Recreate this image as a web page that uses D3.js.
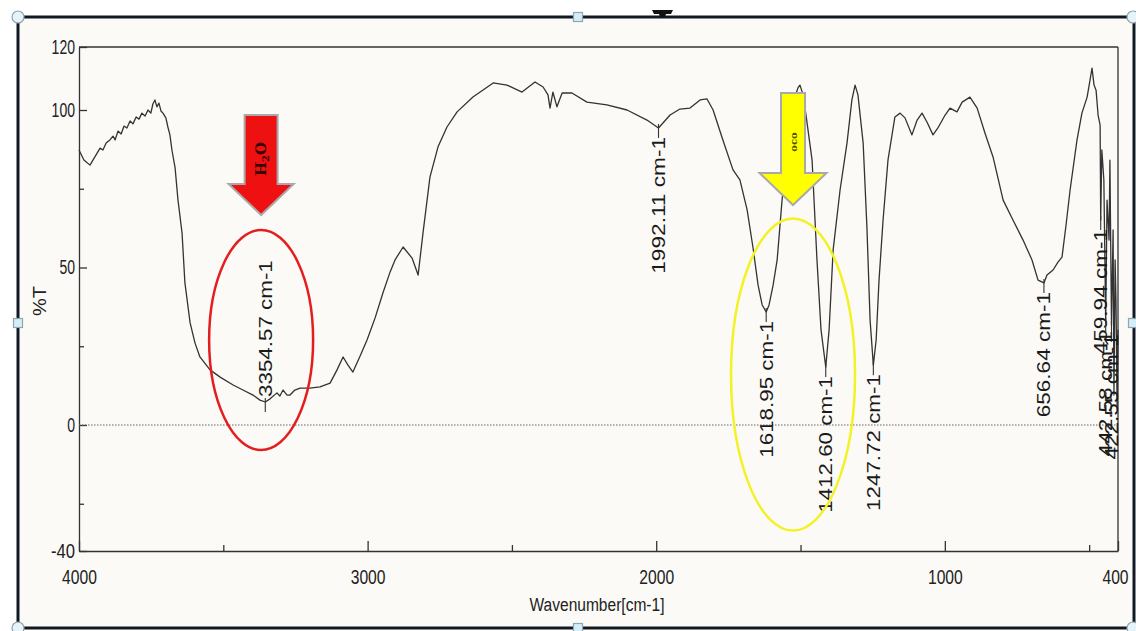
<!DOCTYPE html>
<html>
<head>
<meta charset="utf-8">
<script src="https://cdn.jsdelivr.net/npm/d3@7"></script>
<style>
  html, body { margin: 0; padding: 0; background: #fff; }
  svg { display: block; }
</style>
</head>
<body>
<div id="chart"></div>
<script>
// spectre FTIR : nombre d'onde (cm-1) et transmittance (%T)
const wavenumbers = [
  4000, 3983, 3962, 3945, 3927, 3917, 3906, 3893, 3882, 3875, 3865, 3854, 3844, 3834, 3823, 3813,
  3802, 3792, 3782, 3771, 3761, 3751, 3744, 3737, 3730, 3723, 3716, 3709, 3699, 3692, 3685, 3678,
  3667, 3657, 3643, 3633, 3615, 3598, 3581, 3546, 3511, 3466, 3432, 3397, 3373, 3354.57, 3338, 3314,
  3304, 3293, 3279, 3269, 3252, 3234, 3200, 3165, 3130, 3106, 3085, 3068, 3051, 3026, 3002, 2974,
  2947, 2922, 2905, 2877, 2846, 2825, 2808, 2784, 2756, 2725, 2690, 2635, 2565, 2517, 2465, 2420,
  2392, 2375, 2368, 2358, 2344, 2326, 2292, 2240, 2171, 2101, 2032, 1992.11, 1952, 1918, 1883, 1848,
  1824, 1803, 1769, 1734, 1710, 1685, 1665, 1647, 1633, 1618.95, 1609, 1595, 1581, 1564, 1543, 1523,
  1509, 1502, 1491, 1481, 1460, 1443, 1429, 1412.60, 1401, 1387, 1363, 1339, 1322, 1311, 1301, 1283,
  1270, 1259, 1247.72, 1238, 1228, 1214, 1197, 1173, 1155, 1138, 1114, 1096, 1079, 1062, 1041, 1024,
  999, 982, 958, 940, 913, 888, 861, 833, 798, 764, 729, 698, 677, 656.64, 646, 625,
  608, 594, 580, 566, 542, 525, 507, 497, 490, 483, 476, 469, 462, 459.94, 456, 449,
  442.58, 438, 431, 428, 422.55, 417, 414, 410, 407, 403, 400
];
const transmittance = [
  87.3, 84.1, 82.5, 85.1, 87.9, 87.3, 89.5, 90.5, 91.7, 90.5, 93.3, 92.4, 94.9, 94.3, 96.5, 95.6,
  97.8, 97.1, 99.0, 98.1, 100.0, 99.0, 101.9, 103.2, 101.0, 102.2, 99.7, 99.0, 97.5, 94.6, 92.1, 87.3,
  81.6, 71.4, 61.0, 45.1, 32.4, 26.0, 21.6, 17.5, 15.2, 12.7, 11.1, 9.5, 7.9, 7.3, 8.3, 10.2,
  9.2, 11.1, 9.5, 9.5, 11.1, 11.7, 11.7, 12.1, 13.3, 17.5, 21.6, 19.0, 16.8, 21.9, 27.0, 34.0,
  41.9, 48.6, 52.4, 56.5, 53.0, 47.6, 61.0, 78.7, 88.3, 94.6, 99.4, 104.1, 108.6, 107.9, 105.7, 108.9,
  107.3, 104.8, 100.6, 105.7, 101.0, 105.4, 105.4, 102.5, 101.6, 100.0, 96.8, 94.3, 98.4, 100.3, 100.6, 103.2,
  103.5, 100.0, 90.5, 81.0, 77.8, 68.3, 56.5, 44.4, 38.1, 35.9, 38.1, 44.4, 52.4, 71.4, 90.5, 103.2,
  107.0, 107.9, 104.8, 98.4, 84.1, 52.4, 30.2, 18.4, 30.2, 55.6, 74.6, 89.5, 103.2, 107.9, 104.8, 89.5,
  62.9, 33.3, 19.0, 27.0, 46.0, 65.1, 84.1, 97.8, 99.0, 97.5, 92.1, 96.8, 99.0, 96.2, 92.1, 94.3,
  98.4, 100.6, 99.4, 102.5, 104.1, 100.6, 92.7, 85.1, 71.4, 65.1, 58.7, 52.4, 46.0, 45.1, 47.6, 49.2,
  51.7, 53.3, 63.5, 74.6, 90.5, 99.0, 104.1, 109.5, 113.3, 107.9, 106.3, 98.4, 95.2, 65.1, 87.3, 77.8,
  32.7, 71.4, 58.7, 84.1, 31.7, 61.9, 9.5, 52.4, 39.7, 4.8, 30.2
];

// pics annotés
const peakWavenumbers = [3354.57, 1992.11, 1618.95, 1412.60, 1247.72, 656.64, 459.94, 442.58, 422.55];
const peakLabels = ["3354.57 cm-1", "1992.11 cm-1", "1618.95 cm-1", "1412.60 cm-1", "1247.72 cm-1",
  "656.64 cm-1", "459.94 cm-1", "442.58 cm-1", "422.55 cm-1"];
const peakLabelAbove = [true, false, false, false, false, false, false, false, false];

// graduations
const xTickValues = [4000, 3000, 2000, 1000, 400];
const xMinorTicks = [3500, 2500, 1500, 500];
const yTickValues = [-40, 0, 50, 100, 120];
const yMinorTicks = [-25, 25, 75];

// flèches et ellipses (bandes H2O et OCO)
const bandNames = ["H", "OCO"];
const bandCenters = [3369, 1526];

function drawSpectrum() {
    const width = 1136;
    const height = 631;

    const svg = d3.select("#chart").append("svg")
        .attr("width", width)
        .attr("height", height);

    // cadre de la diapositive
    svg.append("rect")
        .attr("x", 18).attr("y", 17)
        .attr("width", 1116).attr("height", 611)
        .attr("fill", "#fcfaf7")
        .attr("stroke", "#111a24")
        .attr("stroke-width", 3);

    const x = d3.scaleLinear().domain([4000, 400]).range([79, 1118]);
    const y = d3.scaleLinear().domain([-40, 120]).range([551, 47]);

    const tickFont = "'Liberation Sans Narrow', 'Arial Narrow', 'Liberation Sans', sans-serif";
    const plain = function (d) { return String(d); };

    // axe du bas
    const xAxis = svg.append("g")
        .attr("transform", "translate(0," + y(-40) + ")")
        .call(d3.axisBottom(x).tickValues(xTickValues).tickSizeInner(-10).tickSizeOuter(0)
            .tickPadding(19).tickFormat(plain));
    xAxis.selectAll("text")
        .attr("font-family", tickFont)
        .attr("font-size", 20)
        .attr("fill", "#222")
        .attr("textLength", function (d) { return String(d).length * 8.7; })
        .attr("lengthAdjust", "spacingAndGlyphs");
    xAxis.selectAll(".tick text")
        .filter(function (d) { return d === 400; })
        .attr("dx", -3);
    svg.append("g")
        .attr("transform", "translate(0," + y(-40) + ")")
        .call(d3.axisBottom(x).tickValues(xMinorTicks).tickSizeInner(-6).tickSizeOuter(0).tickFormat(""))
        .select(".domain").remove();

    // axe de gauche
    const yAxis = svg.append("g")
        .attr("transform", "translate(" + x(4000) + ",0)")
        .call(d3.axisLeft(y).tickValues(yTickValues).tickSizeInner(-8).tickSizeOuter(0)
            .tickPadding(4).tickFormat(plain));
    yAxis.selectAll("text")
        .attr("font-family", tickFont)
        .attr("font-size", 20)
        .attr("fill", "#222")
        .attr("textLength", function (d) { return d < 0 ? 24 : String(d).length * 7.8; })
        .attr("lengthAdjust", "spacingAndGlyphs");
    svg.append("g")
        .attr("transform", "translate(" + x(4000) + ",0)")
        .call(d3.axisLeft(y).tickValues(yMinorTicks).tickSizeInner(-5).tickSizeOuter(0).tickFormat(""))
        .select(".domain").remove();

    svg.selectAll(".domain, .tick line")
        .attr("stroke", "#333")
        .attr("stroke-width", 1.3);

    // bord haut et bord droit du graphe
    svg.append("line")
        .attr("x1", x(4000)).attr("x2", x(400))
        .attr("y1", y(120)).attr("y2", y(120))
        .attr("stroke", "#333").attr("stroke-width", 1.3);
    svg.append("line")
        .attr("x1", x(400)).attr("x2", x(400))
        .attr("y1", y(120)).attr("y2", y(-40))
        .attr("stroke", "#333").attr("stroke-width", 1.3);

    // ligne du zéro en pointillés
    svg.append("line")
        .attr("x1", x(4000)).attr("x2", x(400))
        .attr("y1", y(0)).attr("y2", y(0))
        .attr("stroke", "#666")
        .attr("stroke-width", 1.2)
        .attr("stroke-dasharray", "1.5,1.5");

    // titres des axes
    svg.append("text")
        .attr("x", 597).attr("y", 611)
        .attr("text-anchor", "middle")
        .attr("font-family", tickFont)
        .attr("font-size", 18)
        .attr("fill", "#222")
        .attr("textLength", 135)
        .attr("lengthAdjust", "spacingAndGlyphs")
        .text("Wavenumber[cm-1]");
    svg.append("text")
        .attr("transform", "translate(46,301) rotate(-90)")
        .attr("text-anchor", "middle")
        .attr("font-family", tickFont)
        .attr("font-size", 18)
        .attr("fill", "#222")
        .attr("textLength", 30)
        .attr("lengthAdjust", "spacingAndGlyphs")
        .text("%T");

    // courbe du spectre
    const points = wavenumbers.map(function (w, i) { return [w, transmittance[i]]; });
    const line = d3.line()
        .x(function (d) { return x(d[0]); })
        .y(function (d) { return y(d[1]); });
    svg.append("path")
        .datum(points)
        .attr("d", line)
        .attr("fill", "none")
        .attr("stroke", "#333")
        .attr("stroke-width", 1.3)
        .attr("stroke-linejoin", "round");

    // étiquettes des pics
    peakWavenumbers.forEach(function (w, i) {
        const idx = wavenumbers.indexOf(w);
        const px = x(w);
        const py = y(transmittance[idx]);
        svg.append("line")
            .attr("x1", px).attr("x2", px)
            .attr("y1", py - 4).attr("y2", py + 10)
            .attr("stroke", "#333").attr("stroke-width", 1.1);
        const above = peakLabelAbove[i];
        svg.append("text")
            .attr("transform", "translate(" + px + "," + (above ? py - 5 : py + 9) + ") rotate(-90)")
            .attr("text-anchor", above ? "start" : "end")
            .attr("dy", "0.36em")
            .attr("font-family", "'Liberation Sans', Arial, sans-serif")
            .attr("font-size", 18)
            .attr("fill", "#1a1a1a")
            .attr("textLength", peakLabels[i].length * 11.4)
            .attr("lengthAdjust", "spacingAndGlyphs")
            .text(peakLabels[i]);
    });

    // ellipses
    svg.append("ellipse")
        .attr("cx", x(bandCenters[0])).attr("cy", y(27))
        .attr("rx", 52).attr("ry", 110)
        .attr("fill", "none").attr("stroke", "#e41e1e").attr("stroke-width", 2.5);
    svg.append("ellipse")
        .attr("cx", x(bandCenters[1])).attr("cy", y(16))
        .attr("rx", 62).attr("ry", 156)
        .attr("fill", "none").attr("stroke", "#f2f226").attr("stroke-width", 2.5);

    // flèches
    function arrow(cx, top, shaftW, headStart, headW, tip, fill) {
        const p = [
            [cx - shaftW / 2, top], [cx + shaftW / 2, top], [cx + shaftW / 2, headStart],
            [cx + headW / 2, headStart], [cx, tip], [cx - headW / 2, headStart],
            [cx - shaftW / 2, headStart]
        ];
        svg.append("path")
            .attr("d", "M" + p.map(function (q) { return q.join(","); }).join("L") + "Z")
            .attr("fill", fill)
            .attr("stroke", "#a9a9a9")
            .attr("stroke-width", 2)
            .attr("stroke-linejoin", "miter");
    }
    const redX = x(bandCenters[0]);
    const yellowX = x(bandCenters[1]);
    arrow(redX, 115, 33, 184, 65, 215, "#ef1111");
    arrow(yellowX, 93, 24, 173, 67, 205, "#ffff00");

    const h2o = svg.append("text")
        .attr("transform", "translate(" + redX + ",159) rotate(-90)")
        .attr("text-anchor", "middle")
        .attr("dy", "0.35em")
        .attr("font-family", "'DejaVu Serif', 'Liberation Serif', serif")
        .attr("font-weight", "bold")
        .attr("font-size", 15)
        .attr("fill", "#3a0505");
    h2o.append("tspan").text(bandNames[0]);
    h2o.append("tspan").attr("font-size", 10).attr("dy", "0.25em").text("2");
    h2o.append("tspan").attr("dy", "-0.2em").text("O");

    svg.append("text")
        .attr("transform", "translate(" + yellowX + ",142) rotate(-90)")
        .attr("text-anchor", "middle")
        .attr("dy", "0.35em")
        .attr("font-family", "'DejaVu Serif', 'Liberation Serif', serif")
        .attr("font-weight", "bold")
        .attr("font-size", 10)
        .attr("fill", "#4a4a00")
        .text(bandNames[1].toLowerCase());

    // petit objet noir en haut
    svg.append("path")
        .attr("d", "M652,10 L673,10 L671,14 L666,14 L665,17 L660,17 L659,14 L654,14 Z")
        .attr("fill", "#111");

    // poignées de sélection du cadre
    const corners = [[18, 17], [1133, 17], [18, 628], [1133, 628]];
    svg.selectAll(".corner")
        .data(corners)
        .join("circle")
        .attr("class", "corner")
        .attr("cx", function (d) { return d[0]; })
        .attr("cy", function (d) { return d[1]; })
        .attr("r", 6)
        .attr("fill", "#e6f3f8")
        .attr("stroke", "#8fa6b0")
        .attr("stroke-width", 1.2);
    const mids = [[578, 17], [18, 323], [578, 628], [1133, 323]];
    svg.selectAll(".mid")
        .data(mids)
        .join("rect")
        .attr("class", "mid")
        .attr("x", function (d) { return d[0] - 4.5; })
        .attr("y", function (d) { return d[1] - 4.5; })
        .attr("width", 9).attr("height", 9)
        .attr("fill", "#d4eef8")
        .attr("stroke", "#8fa6b0")
        .attr("stroke-width", 1.2);
}

drawSpectrum();
</script>
</body>
</html>
